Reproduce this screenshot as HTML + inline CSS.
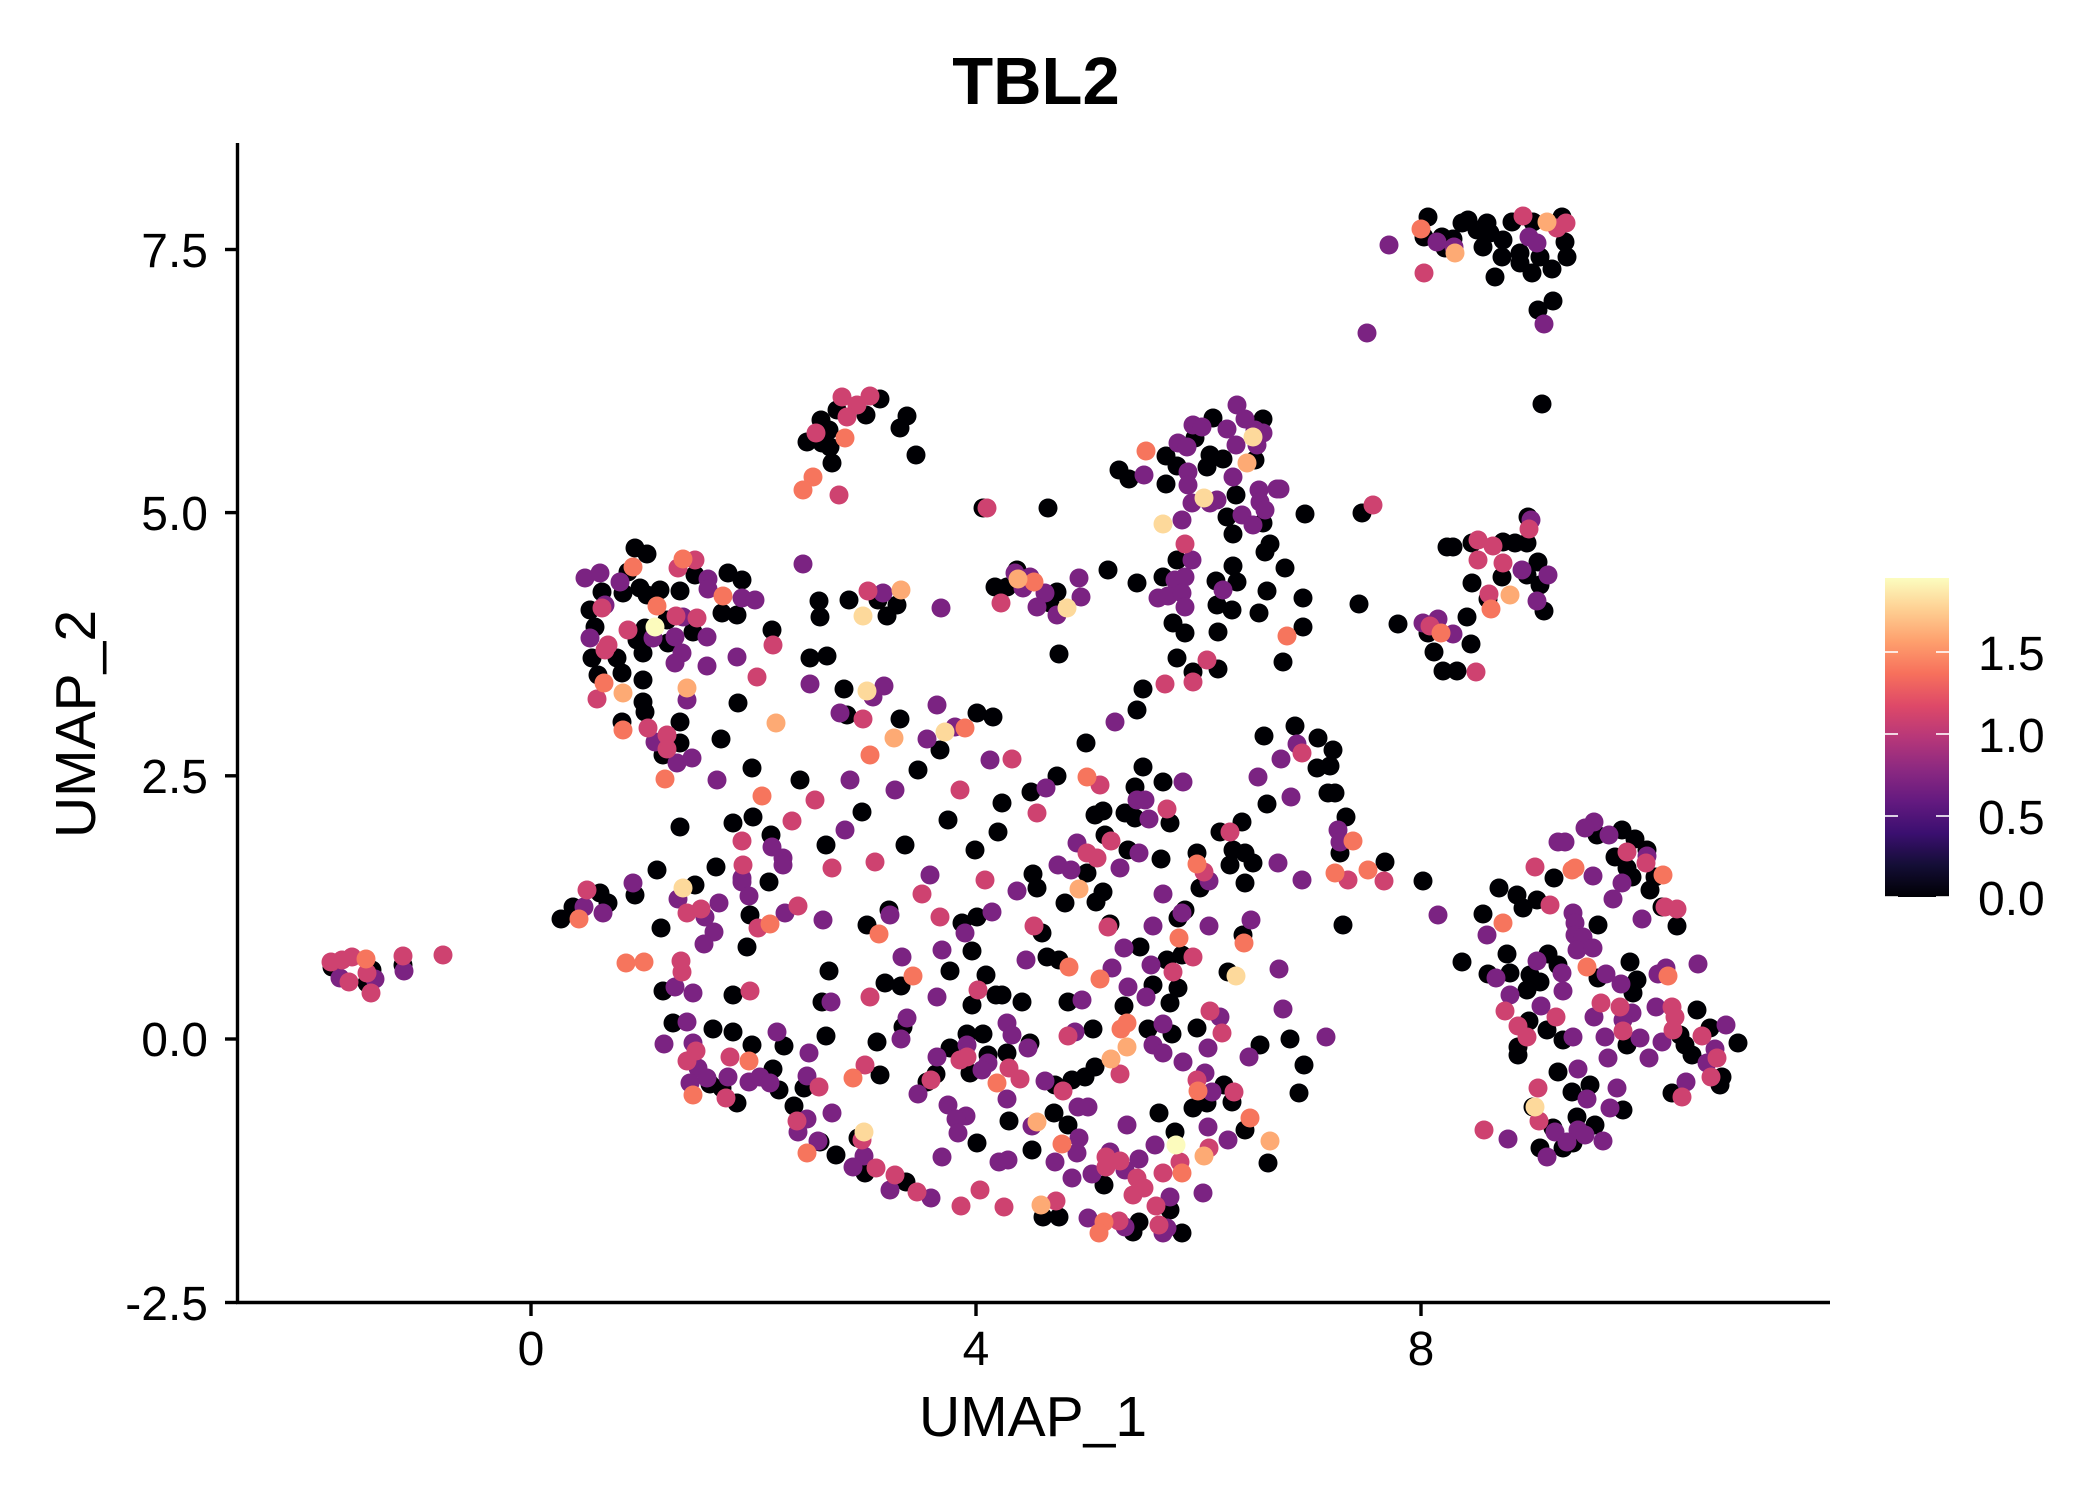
<!DOCTYPE html>
<html><head><meta charset="utf-8"><style>
html,body{margin:0;padding:0;background:#fff;}
svg{display:block;}
text{font-family:"Liberation Sans",Arial,sans-serif;fill:#000;}
</style></head><body>
<svg width="2100" height="1500" viewBox="0 0 2100 1500" xmlns="http://www.w3.org/2000/svg">
<defs>
<linearGradient id="mg" x1="0" y1="1" x2="0" y2="0">
<stop offset="0" stop-color="#000004"/><stop offset="0.1" stop-color="#140E36"/><stop offset="0.2" stop-color="#3B0F70"/><stop offset="0.3" stop-color="#641A80"/><stop offset="0.4" stop-color="#8C2981"/><stop offset="0.5" stop-color="#B73779"/><stop offset="0.6" stop-color="#DE4968"/><stop offset="0.7" stop-color="#F7705C"/><stop offset="0.8" stop-color="#FE9F6D"/><stop offset="0.9" stop-color="#FECF92"/><stop offset="1" stop-color="#FCFDBF"/>
</linearGradient>
</defs>
<rect width="2100" height="1500" fill="#fff"/>
<text x="1036" y="104" font-size="67" font-weight="bold" text-anchor="middle">TBL2</text>
<!-- points -->
<g fill="#000004">
<circle cx="332" cy="967" r="9.5"/><circle cx="372" cy="970" r="9.5"/><circle cx="367" cy="983" r="9.5"/><circle cx="403" cy="965" r="9.5"/>
<circle cx="635" cy="548" r="9.5"/><circle cx="647" cy="554" r="9.5"/><circle cx="628" cy="572" r="9.5"/><circle cx="695" cy="575" r="9.5"/><circle cx="640" cy="588" r="9.5"/><circle cx="660" cy="590" r="9.5"/><circle cx="647" cy="595" r="9.5"/><circle cx="623" cy="593" r="9.5"/><circle cx="680" cy="591" r="9.5"/><circle cx="602" cy="592" r="9.5"/><circle cx="728" cy="573" r="9.5"/><circle cx="742" cy="580" r="9.5"/><circle cx="722" cy="613" r="9.5"/><circle cx="737" cy="615" r="9.5"/><circle cx="590" cy="610" r="9.5"/><circle cx="595" cy="627" r="9.5"/><circle cx="645" cy="628" r="9.5"/><circle cx="667" cy="620" r="9.5"/><circle cx="693" cy="632" r="9.5"/><circle cx="772" cy="630" r="9.5"/><circle cx="637" cy="640" r="9.5"/><circle cx="668" cy="643" r="9.5"/><circle cx="643" cy="653" r="9.5"/><circle cx="592" cy="658" r="9.5"/><circle cx="617" cy="658" r="9.5"/><circle cx="622" cy="673" r="9.5"/><circle cx="598" cy="675" r="9.5"/><circle cx="643" cy="680" r="9.5"/><circle cx="643" cy="702" r="9.5"/><circle cx="645" cy="712" r="9.5"/><circle cx="738" cy="703" r="9.5"/><circle cx="622" cy="722" r="9.5"/><circle cx="680" cy="722" r="9.5"/><circle cx="721" cy="739" r="9.5"/><circle cx="680" cy="743" r="9.5"/><circle cx="663" cy="755" r="9.5"/><circle cx="752" cy="768" r="9.5"/><circle cx="800" cy="780" r="9.5"/><circle cx="680" cy="827" r="9.5"/><circle cx="733" cy="823" r="9.5"/><circle cx="753" cy="817" r="9.5"/><circle cx="771" cy="835" r="9.5"/><circle cx="657" cy="870" r="9.5"/><circle cx="716" cy="867" r="9.5"/>
<circle cx="880" cy="399" r="9.5"/><circle cx="837" cy="410" r="9.5"/><circle cx="866" cy="415" r="9.5"/><circle cx="907" cy="416" r="9.5"/><circle cx="900" cy="428" r="9.5"/><circle cx="821" cy="420" r="9.5"/><circle cx="829" cy="430" r="9.5"/><circle cx="807" cy="442" r="9.5"/><circle cx="822" cy="443" r="9.5"/><circle cx="830" cy="447" r="9.5"/><circle cx="832" cy="463" r="9.5"/><circle cx="916" cy="455" r="9.5"/><circle cx="983" cy="508" r="9.5"/><circle cx="1048" cy="508" r="9.5"/><circle cx="819" cy="601" r="9.5"/><circle cx="820" cy="617" r="9.5"/><circle cx="849" cy="600" r="9.5"/><circle cx="878" cy="600" r="9.5"/><circle cx="897" cy="605" r="9.5"/><circle cx="887" cy="616" r="9.5"/><circle cx="995" cy="587" r="9.5"/><circle cx="1017" cy="570" r="9.5"/><circle cx="1007" cy="587" r="9.5"/><circle cx="1057" cy="592" r="9.5"/><circle cx="1050" cy="603" r="9.5"/><circle cx="1108" cy="570" r="9.5"/><circle cx="1137" cy="583" r="9.5"/><circle cx="810" cy="658" r="9.5"/><circle cx="827" cy="656" r="9.5"/><circle cx="844" cy="689" r="9.5"/><circle cx="847" cy="715" r="9.5"/><circle cx="900" cy="719" r="9.5"/><circle cx="977" cy="713" r="9.5"/><circle cx="993" cy="717" r="9.5"/><circle cx="1059" cy="654" r="9.5"/><circle cx="1137" cy="710" r="9.5"/><circle cx="1143" cy="689" r="9.5"/><circle cx="1193" cy="672" r="9.5"/><circle cx="1218" cy="669" r="9.5"/><circle cx="1177" cy="658" r="9.5"/>
<circle cx="1213" cy="418" r="9.5"/><circle cx="1263" cy="419" r="9.5"/><circle cx="1195" cy="438" r="9.5"/><circle cx="1166" cy="456" r="9.5"/><circle cx="1177" cy="466" r="9.5"/><circle cx="1210" cy="455" r="9.5"/><circle cx="1223" cy="459" r="9.5"/><circle cx="1207" cy="467" r="9.5"/><circle cx="1255" cy="460" r="9.5"/><circle cx="1119" cy="470" r="9.5"/><circle cx="1129" cy="479" r="9.5"/><circle cx="1166" cy="484" r="9.5"/><circle cx="1236" cy="495" r="9.5"/><circle cx="1263" cy="523" r="9.5"/><circle cx="1227" cy="517" r="9.5"/><circle cx="1233" cy="534" r="9.5"/><circle cx="1177" cy="560" r="9.5"/><circle cx="1270" cy="544" r="9.5"/><circle cx="1265" cy="552" r="9.5"/><circle cx="1233" cy="566" r="9.5"/><circle cx="1237" cy="582" r="9.5"/><circle cx="1216" cy="581" r="9.5"/><circle cx="1163" cy="577" r="9.5"/><circle cx="1173" cy="623" r="9.5"/><circle cx="1185" cy="633" r="9.5"/><circle cx="1217" cy="605" r="9.5"/><circle cx="1232" cy="610" r="9.5"/><circle cx="1218" cy="632" r="9.5"/><circle cx="1267" cy="591" r="9.5"/><circle cx="1259" cy="613" r="9.5"/><circle cx="1285" cy="568" r="9.5"/><circle cx="1283" cy="662" r="9.5"/>
<circle cx="1428" cy="217" r="9.5"/><circle cx="1424" cy="237" r="9.5"/><circle cx="1442" cy="237" r="9.5"/><circle cx="1453" cy="239" r="9.5"/><circle cx="1445" cy="248" r="9.5"/><circle cx="1468" cy="220" r="9.5"/><circle cx="1462" cy="223" r="9.5"/><circle cx="1487" cy="223" r="9.5"/><circle cx="1477" cy="230" r="9.5"/><circle cx="1490" cy="233" r="9.5"/><circle cx="1512" cy="222" r="9.5"/><circle cx="1483" cy="247" r="9.5"/><circle cx="1503" cy="240" r="9.5"/><circle cx="1502" cy="257" r="9.5"/><circle cx="1520" cy="253" r="9.5"/><circle cx="1520" cy="263" r="9.5"/><circle cx="1532" cy="273" r="9.5"/><circle cx="1495" cy="277" r="9.5"/><circle cx="1540" cy="257" r="9.5"/><circle cx="1552" cy="269" r="9.5"/><circle cx="1567" cy="257" r="9.5"/><circle cx="1565" cy="242" r="9.5"/><circle cx="1562" cy="217" r="9.5"/><circle cx="1533" cy="222" r="9.5"/><circle cx="1553" cy="301" r="9.5"/><circle cx="1538" cy="310" r="9.5"/><circle cx="1542" cy="404" r="9.5"/>
<circle cx="1305" cy="514" r="9.5"/><circle cx="1362" cy="513" r="9.5"/><circle cx="1303" cy="598" r="9.5"/><circle cx="1303" cy="627" r="9.5"/><circle cx="1359" cy="604" r="9.5"/><circle cx="1398" cy="624" r="9.5"/><circle cx="1428" cy="633" r="9.5"/><circle cx="1467" cy="617" r="9.5"/><circle cx="1471" cy="644" r="9.5"/><circle cx="1434" cy="652" r="9.5"/><circle cx="1443" cy="671" r="9.5"/><circle cx="1457" cy="671" r="9.5"/><circle cx="1447" cy="547" r="9.5"/><circle cx="1453" cy="547" r="9.5"/><circle cx="1472" cy="543" r="9.5"/><circle cx="1503" cy="542" r="9.5"/><circle cx="1515" cy="543" r="9.5"/><circle cx="1527" cy="543" r="9.5"/><circle cx="1502" cy="577" r="9.5"/><circle cx="1538" cy="562" r="9.5"/><circle cx="1527" cy="575" r="9.5"/><circle cx="1540" cy="585" r="9.5"/><circle cx="1472" cy="583" r="9.5"/><circle cx="1488" cy="599" r="9.5"/><circle cx="1544" cy="611" r="9.5"/><circle cx="1528" cy="517" r="9.5"/>
<circle cx="1423" cy="881" r="9.5"/><circle cx="1597" cy="835" r="9.5"/><circle cx="1622" cy="830" r="9.5"/><circle cx="1635" cy="839" r="9.5"/><circle cx="1647" cy="850" r="9.5"/><circle cx="1615" cy="857" r="9.5"/><circle cx="1554" cy="878" r="9.5"/><circle cx="1627" cy="868" r="9.5"/><circle cx="1632" cy="877" r="9.5"/><circle cx="1655" cy="877" r="9.5"/><circle cx="1650" cy="890" r="9.5"/><circle cx="1499" cy="888" r="9.5"/><circle cx="1517" cy="895" r="9.5"/><circle cx="1537" cy="900" r="9.5"/><circle cx="1523" cy="908" r="9.5"/><circle cx="1662" cy="907" r="9.5"/><circle cx="1677" cy="926" r="9.5"/><circle cx="1483" cy="914" r="9.5"/><circle cx="1598" cy="925" r="9.5"/><circle cx="1462" cy="962" r="9.5"/><circle cx="1507" cy="954" r="9.5"/><circle cx="1488" cy="974" r="9.5"/><circle cx="1510" cy="973" r="9.5"/><circle cx="1548" cy="954" r="9.5"/><circle cx="1530" cy="975" r="9.5"/><circle cx="1540" cy="982" r="9.5"/><circle cx="1558" cy="965" r="9.5"/><circle cx="1527" cy="990" r="9.5"/><circle cx="1598" cy="978" r="9.5"/><circle cx="1630" cy="962" r="9.5"/><circle cx="1637" cy="980" r="9.5"/><circle cx="1633" cy="993" r="9.5"/><circle cx="1529" cy="1021" r="9.5"/><circle cx="1680" cy="1035" r="9.5"/><circle cx="1697" cy="1010" r="9.5"/><circle cx="1547" cy="1030" r="9.5"/><circle cx="1563" cy="1040" r="9.5"/><circle cx="1627" cy="1045" r="9.5"/><circle cx="1685" cy="1045" r="9.5"/><circle cx="1692" cy="1055" r="9.5"/><circle cx="1710" cy="1028" r="9.5"/><circle cx="1738" cy="1043" r="9.5"/><circle cx="1518" cy="1047" r="9.5"/><circle cx="1518" cy="1055" r="9.5"/><circle cx="1722" cy="1077" r="9.5"/><circle cx="1720" cy="1085" r="9.5"/><circle cx="1672" cy="1093" r="9.5"/><circle cx="1558" cy="1072" r="9.5"/><circle cx="1572" cy="1092" r="9.5"/><circle cx="1590" cy="1085" r="9.5"/><circle cx="1533" cy="1107" r="9.5"/><circle cx="1577" cy="1117" r="9.5"/><circle cx="1595" cy="1125" r="9.5"/><circle cx="1623" cy="1110" r="9.5"/><circle cx="1553" cy="1128" r="9.5"/><circle cx="1573" cy="1143" r="9.5"/><circle cx="1540" cy="1148" r="9.5"/><circle cx="1563" cy="1148" r="9.5"/>
<circle cx="600" cy="893" r="9.5"/><circle cx="608" cy="903" r="9.5"/><circle cx="573" cy="907" r="9.5"/><circle cx="561" cy="919" r="9.5"/><circle cx="635" cy="895" r="9.5"/><circle cx="695" cy="885" r="9.5"/><circle cx="769" cy="882" r="9.5"/><circle cx="661" cy="928" r="9.5"/><circle cx="750" cy="915" r="9.5"/><circle cx="747" cy="947" r="9.5"/><circle cx="663" cy="991" r="9.5"/><circle cx="733" cy="995" r="9.5"/><circle cx="829" cy="971" r="9.5"/><circle cx="822" cy="1002" r="9.5"/><circle cx="885" cy="983" r="9.5"/><circle cx="901" cy="986" r="9.5"/><circle cx="867" cy="925" r="9.5"/><circle cx="889" cy="910" r="9.5"/><circle cx="962" cy="923" r="9.5"/><circle cx="977" cy="917" r="9.5"/><circle cx="972" cy="951" r="9.5"/><circle cx="950" cy="971" r="9.5"/><circle cx="986" cy="975" r="9.5"/><circle cx="972" cy="1005" r="9.5"/><circle cx="996" cy="995" r="9.5"/><circle cx="673" cy="1023" r="9.5"/><circle cx="713" cy="1029" r="9.5"/><circle cx="733" cy="1032" r="9.5"/><circle cx="710" cy="1084" r="9.5"/><circle cx="722" cy="1088" r="9.5"/><circle cx="737" cy="1103" r="9.5"/><circle cx="752" cy="1045" r="9.5"/><circle cx="784" cy="1046" r="9.5"/><circle cx="773" cy="1069" r="9.5"/><circle cx="779" cy="1090" r="9.5"/><circle cx="826" cy="1036" r="9.5"/><circle cx="804" cy="1088" r="9.5"/><circle cx="794" cy="1106" r="9.5"/><circle cx="820" cy="1142" r="9.5"/><circle cx="836" cy="1155" r="9.5"/><circle cx="858" cy="1138" r="9.5"/><circle cx="865" cy="1173" r="9.5"/><circle cx="906" cy="1182" r="9.5"/><circle cx="880" cy="1075" r="9.5"/><circle cx="877" cy="1042" r="9.5"/><circle cx="903" cy="1027" r="9.5"/><circle cx="967" cy="1034" r="9.5"/><circle cx="983" cy="1034" r="9.5"/><circle cx="950" cy="1048" r="9.5"/><circle cx="970" cy="1073" r="9.5"/><circle cx="988" cy="1055" r="9.5"/><circle cx="927" cy="1082" r="9.5"/><circle cx="936" cy="1074" r="9.5"/><circle cx="977" cy="1143" r="9.5"/>
<circle cx="1086" cy="743" r="9.5"/><circle cx="1057" cy="776" r="9.5"/><circle cx="1031" cy="792" r="9.5"/><circle cx="1002" cy="803" r="9.5"/><circle cx="1143" cy="767" r="9.5"/><circle cx="1135" cy="787" r="9.5"/><circle cx="1163" cy="782" r="9.5"/><circle cx="1095" cy="815" r="9.5"/><circle cx="1103" cy="811" r="9.5"/><circle cx="1125" cy="813" r="9.5"/><circle cx="1135" cy="818" r="9.5"/><circle cx="1170" cy="823" r="9.5"/><circle cx="1105" cy="835" r="9.5"/><circle cx="1128" cy="850" r="9.5"/><circle cx="1161" cy="859" r="9.5"/><circle cx="1087" cy="873" r="9.5"/><circle cx="1033" cy="874" r="9.5"/><circle cx="1037" cy="888" r="9.5"/><circle cx="1103" cy="892" r="9.5"/><circle cx="1096" cy="902" r="9.5"/><circle cx="1065" cy="903" r="9.5"/><circle cx="1197" cy="853" r="9.5"/><circle cx="1200" cy="888" r="9.5"/><circle cx="1220" cy="832" r="9.5"/><circle cx="1242" cy="822" r="9.5"/><circle cx="1233" cy="850" r="9.5"/><circle cx="1245" cy="853" r="9.5"/><circle cx="1253" cy="863" r="9.5"/><circle cx="1230" cy="865" r="9.5"/><circle cx="1245" cy="883" r="9.5"/><circle cx="1264" cy="736" r="9.5"/><circle cx="1295" cy="726" r="9.5"/><circle cx="1318" cy="738" r="9.5"/><circle cx="1333" cy="750" r="9.5"/><circle cx="1317" cy="768" r="9.5"/><circle cx="1330" cy="766" r="9.5"/><circle cx="1267" cy="804" r="9.5"/><circle cx="1328" cy="793" r="9.5"/><circle cx="1335" cy="793" r="9.5"/><circle cx="1346" cy="817" r="9.5"/><circle cx="1340" cy="853" r="9.5"/><circle cx="1385" cy="862" r="9.5"/><circle cx="1343" cy="925" r="9.5"/><circle cx="1185" cy="910" r="9.5"/><circle cx="1178" cy="918" r="9.5"/><circle cx="1110" cy="924" r="9.5"/><circle cx="1042" cy="933" r="9.5"/><circle cx="1140" cy="947" r="9.5"/><circle cx="1243" cy="935" r="9.5"/><circle cx="1182" cy="955" r="9.5"/><circle cx="1167" cy="960" r="9.5"/><circle cx="1047" cy="957" r="9.5"/><circle cx="1059" cy="960" r="9.5"/><circle cx="1228" cy="972" r="9.5"/><circle cx="1002" cy="995" r="9.5"/><circle cx="1153" cy="985" r="9.5"/><circle cx="1178" cy="988" r="9.5"/>
<circle cx="1022" cy="1002" r="9.5"/><circle cx="1068" cy="1002" r="9.5"/><circle cx="1124" cy="1006" r="9.5"/><circle cx="1170" cy="1003" r="9.5"/><circle cx="1030" cy="1043" r="9.5"/><circle cx="1007" cy="1053" r="9.5"/><circle cx="1093" cy="1029" r="9.5"/><circle cx="1148" cy="1029" r="9.5"/><circle cx="1172" cy="1034" r="9.5"/><circle cx="1197" cy="1028" r="9.5"/><circle cx="1260" cy="1045" r="9.5"/><circle cx="1290" cy="1039" r="9.5"/><circle cx="1304" cy="1065" r="9.5"/><circle cx="1299" cy="1093" r="9.5"/><circle cx="1055" cy="1085" r="9.5"/><circle cx="1072" cy="1080" r="9.5"/><circle cx="1085" cy="1077" r="9.5"/><circle cx="1095" cy="1067" r="9.5"/><circle cx="1224" cy="1085" r="9.5"/><circle cx="1232" cy="1102" r="9.5"/><circle cx="1207" cy="1103" r="9.5"/><circle cx="1193" cy="1108" r="9.5"/><circle cx="1009" cy="1121" r="9.5"/><circle cx="1054" cy="1113" r="9.5"/><circle cx="1068" cy="1125" r="9.5"/><circle cx="1159" cy="1113" r="9.5"/><circle cx="1175" cy="1132" r="9.5"/><circle cx="1245" cy="1130" r="9.5"/><circle cx="1268" cy="1163" r="9.5"/><circle cx="1032" cy="1150" r="9.5"/><circle cx="1104" cy="1185" r="9.5"/><circle cx="1170" cy="1210" r="9.5"/><circle cx="1043" cy="1217" r="9.5"/><circle cx="1059" cy="1217" r="9.5"/><circle cx="1139" cy="1222" r="9.5"/><circle cx="1133" cy="1232" r="9.5"/><circle cx="1182" cy="1233" r="9.5"/>
<circle cx="826" cy="845" r="9.5"/><circle cx="862" cy="812" r="9.5"/><circle cx="905" cy="845" r="9.5"/><circle cx="918" cy="770" r="9.5"/><circle cx="948" cy="820" r="9.5"/><circle cx="975" cy="850" r="9.5"/><circle cx="998" cy="832" r="9.5"/><circle cx="940" cy="750" r="9.5"/>
</g>
<g fill="#7B2382">
<circle cx="340" cy="978" r="9.5"/><circle cx="375" cy="979" r="9.5"/><circle cx="404" cy="971" r="9.5"/>
<circle cx="585" cy="578" r="9.5"/><circle cx="600" cy="573" r="9.5"/><circle cx="620" cy="582" r="9.5"/><circle cx="708" cy="579" r="9.5"/><circle cx="708" cy="589" r="9.5"/><circle cx="742" cy="598" r="9.5"/><circle cx="755" cy="600" r="9.5"/><circle cx="605" cy="605" r="9.5"/><circle cx="683" cy="617" r="9.5"/><circle cx="675" cy="637" r="9.5"/><circle cx="653" cy="638" r="9.5"/><circle cx="707" cy="637" r="9.5"/><circle cx="590" cy="638" r="9.5"/><circle cx="682" cy="653" r="9.5"/><circle cx="675" cy="663" r="9.5"/><circle cx="707" cy="666" r="9.5"/><circle cx="737" cy="657" r="9.5"/><circle cx="687" cy="700" r="9.5"/><circle cx="655" cy="742" r="9.5"/><circle cx="677" cy="763" r="9.5"/><circle cx="692" cy="758" r="9.5"/><circle cx="717" cy="780" r="9.5"/><circle cx="772" cy="847" r="9.5"/><circle cx="783" cy="858" r="9.5"/><circle cx="783" cy="865" r="9.5"/><circle cx="742" cy="878" r="9.5"/>
<circle cx="803" cy="564" r="9.5"/><circle cx="883" cy="593" r="9.5"/><circle cx="941" cy="608" r="9.5"/><circle cx="1015" cy="573" r="9.5"/><circle cx="1030" cy="577" r="9.5"/><circle cx="1023" cy="588" r="9.5"/><circle cx="1045" cy="593" r="9.5"/><circle cx="1037" cy="607" r="9.5"/><circle cx="1057" cy="615" r="9.5"/><circle cx="1079" cy="578" r="9.5"/><circle cx="1081" cy="597" r="9.5"/><circle cx="810" cy="684" r="9.5"/><circle cx="884" cy="686" r="9.5"/><circle cx="873" cy="697" r="9.5"/><circle cx="840" cy="713" r="9.5"/><circle cx="937" cy="705" r="9.5"/><circle cx="955" cy="727" r="9.5"/><circle cx="927" cy="739" r="9.5"/>
<circle cx="1237" cy="405" r="9.5"/><circle cx="1245" cy="419" r="9.5"/><circle cx="1193" cy="425" r="9.5"/><circle cx="1202" cy="427" r="9.5"/><circle cx="1227" cy="429" r="9.5"/><circle cx="1255" cy="430" r="9.5"/><circle cx="1263" cy="433" r="9.5"/><circle cx="1257" cy="445" r="9.5"/><circle cx="1236" cy="445" r="9.5"/><circle cx="1178" cy="443" r="9.5"/><circle cx="1187" cy="447" r="9.5"/><circle cx="1144" cy="475" r="9.5"/><circle cx="1188" cy="472" r="9.5"/><circle cx="1188" cy="485" r="9.5"/><circle cx="1233" cy="477" r="9.5"/><circle cx="1259" cy="490" r="9.5"/><circle cx="1277" cy="489" r="9.5"/><circle cx="1260" cy="502" r="9.5"/><circle cx="1265" cy="510" r="9.5"/><circle cx="1242" cy="515" r="9.5"/><circle cx="1253" cy="525" r="9.5"/><circle cx="1192" cy="503" r="9.5"/><circle cx="1210" cy="503" r="9.5"/><circle cx="1217" cy="500" r="9.5"/><circle cx="1182" cy="520" r="9.5"/><circle cx="1192" cy="560" r="9.5"/><circle cx="1223" cy="590" r="9.5"/><circle cx="1175" cy="580" r="9.5"/><circle cx="1185" cy="577" r="9.5"/><circle cx="1158" cy="598" r="9.5"/><circle cx="1168" cy="596" r="9.5"/><circle cx="1182" cy="593" r="9.5"/><circle cx="1185" cy="607" r="9.5"/>
<circle cx="1437" cy="242" r="9.5"/><circle cx="1454" cy="247" r="9.5"/><circle cx="1389" cy="245" r="9.5"/><circle cx="1529" cy="237" r="9.5"/><circle cx="1537" cy="243" r="9.5"/><circle cx="1544" cy="324" r="9.5"/><circle cx="1367" cy="333" r="9.5"/><circle cx="1280" cy="489" r="9.5"/>
<circle cx="1531" cy="520" r="9.5"/><circle cx="1423" cy="623" r="9.5"/><circle cx="1438" cy="619" r="9.5"/><circle cx="1453" cy="634" r="9.5"/><circle cx="1522" cy="570" r="9.5"/><circle cx="1548" cy="575" r="9.5"/><circle cx="1537" cy="601" r="9.5"/>
<circle cx="1594" cy="822" r="9.5"/><circle cx="1585" cy="828" r="9.5"/><circle cx="1609" cy="835" r="9.5"/><circle cx="1647" cy="856" r="9.5"/><circle cx="1558" cy="842" r="9.5"/><circle cx="1565" cy="842" r="9.5"/><circle cx="1593" cy="876" r="9.5"/><circle cx="1622" cy="883" r="9.5"/><circle cx="1613" cy="899" r="9.5"/><circle cx="1438" cy="915" r="9.5"/><circle cx="1487" cy="935" r="9.5"/><circle cx="1573" cy="913" r="9.5"/><circle cx="1575" cy="923" r="9.5"/><circle cx="1575" cy="935" r="9.5"/><circle cx="1583" cy="937" r="9.5"/><circle cx="1577" cy="950" r="9.5"/><circle cx="1593" cy="948" r="9.5"/><circle cx="1642" cy="919" r="9.5"/><circle cx="1496" cy="978" r="9.5"/><circle cx="1537" cy="961" r="9.5"/><circle cx="1562" cy="973" r="9.5"/><circle cx="1563" cy="991" r="9.5"/><circle cx="1510" cy="995" r="9.5"/><circle cx="1606" cy="974" r="9.5"/><circle cx="1621" cy="984" r="9.5"/><circle cx="1658" cy="974" r="9.5"/><circle cx="1666" cy="968" r="9.5"/><circle cx="1698" cy="964" r="9.5"/><circle cx="1541" cy="1006" r="9.5"/><circle cx="1594" cy="1017" r="9.5"/><circle cx="1632" cy="1013" r="9.5"/><circle cx="1623" cy="1020" r="9.5"/><circle cx="1656" cy="1007" r="9.5"/><circle cx="1573" cy="1037" r="9.5"/><circle cx="1605" cy="1037" r="9.5"/><circle cx="1640" cy="1038" r="9.5"/><circle cx="1662" cy="1042" r="9.5"/><circle cx="1726" cy="1025" r="9.5"/><circle cx="1608" cy="1058" r="9.5"/><circle cx="1649" cy="1058" r="9.5"/><circle cx="1707" cy="1063" r="9.5"/><circle cx="1715" cy="1049" r="9.5"/><circle cx="1686" cy="1082" r="9.5"/><circle cx="1578" cy="1069" r="9.5"/><circle cx="1587" cy="1099" r="9.5"/><circle cx="1617" cy="1088" r="9.5"/><circle cx="1610" cy="1108" r="9.5"/><circle cx="1508" cy="1139" r="9.5"/><circle cx="1555" cy="1132" r="9.5"/><circle cx="1578" cy="1130" r="9.5"/><circle cx="1567" cy="1142" r="9.5"/><circle cx="1585" cy="1135" r="9.5"/><circle cx="1603" cy="1141" r="9.5"/><circle cx="1547" cy="1157" r="9.5"/>
<circle cx="584" cy="907" r="9.5"/><circle cx="603" cy="913" r="9.5"/><circle cx="633" cy="883" r="9.5"/><circle cx="678" cy="899" r="9.5"/><circle cx="705" cy="917" r="9.5"/><circle cx="719" cy="903" r="9.5"/><circle cx="742" cy="882" r="9.5"/><circle cx="749" cy="896" r="9.5"/><circle cx="714" cy="932" r="9.5"/><circle cx="704" cy="944" r="9.5"/><circle cx="785" cy="913" r="9.5"/><circle cx="823" cy="920" r="9.5"/><circle cx="675" cy="987" r="9.5"/><circle cx="693" cy="993" r="9.5"/><circle cx="831" cy="1002" r="9.5"/><circle cx="902" cy="957" r="9.5"/><circle cx="890" cy="915" r="9.5"/><circle cx="942" cy="950" r="9.5"/><circle cx="992" cy="912" r="9.5"/><circle cx="965" cy="933" r="9.5"/><circle cx="937" cy="997" r="9.5"/><circle cx="687" cy="1022" r="9.5"/><circle cx="664" cy="1044" r="9.5"/><circle cx="693" cy="1043" r="9.5"/><circle cx="698" cy="1068" r="9.5"/><circle cx="690" cy="1083" r="9.5"/><circle cx="707" cy="1078" r="9.5"/><circle cx="728" cy="1077" r="9.5"/><circle cx="777" cy="1032" r="9.5"/><circle cx="749" cy="1082" r="9.5"/><circle cx="760" cy="1077" r="9.5"/><circle cx="770" cy="1083" r="9.5"/><circle cx="809" cy="1053" r="9.5"/><circle cx="807" cy="1076" r="9.5"/><circle cx="807" cy="1119" r="9.5"/><circle cx="798" cy="1132" r="9.5"/><circle cx="832" cy="1113" r="9.5"/><circle cx="818" cy="1141" r="9.5"/><circle cx="864" cy="1156" r="9.5"/><circle cx="853" cy="1167" r="9.5"/><circle cx="890" cy="1190" r="9.5"/><circle cx="931" cy="1198" r="9.5"/><circle cx="907" cy="1018" r="9.5"/><circle cx="901" cy="1039" r="9.5"/><circle cx="967" cy="1045" r="9.5"/><circle cx="937" cy="1057" r="9.5"/><circle cx="988" cy="1063" r="9.5"/><circle cx="982" cy="1070" r="9.5"/><circle cx="918" cy="1094" r="9.5"/><circle cx="948" cy="1105" r="9.5"/><circle cx="966" cy="1116" r="9.5"/><circle cx="956" cy="1119" r="9.5"/><circle cx="958" cy="1133" r="9.5"/><circle cx="942" cy="1157" r="9.5"/><circle cx="999" cy="1162" r="9.5"/>
<circle cx="1115" cy="722" r="9.5"/><circle cx="1046" cy="788" r="9.5"/><circle cx="1183" cy="782" r="9.5"/><circle cx="1137" cy="800" r="9.5"/><circle cx="1145" cy="800" r="9.5"/><circle cx="1149" cy="819" r="9.5"/><circle cx="1077" cy="843" r="9.5"/><circle cx="1139" cy="853" r="9.5"/><circle cx="1058" cy="865" r="9.5"/><circle cx="1071" cy="870" r="9.5"/><circle cx="1120" cy="868" r="9.5"/><circle cx="1017" cy="891" r="9.5"/><circle cx="1163" cy="894" r="9.5"/><circle cx="1209" cy="881" r="9.5"/><circle cx="1297" cy="744" r="9.5"/><circle cx="1281" cy="759" r="9.5"/><circle cx="1258" cy="777" r="9.5"/><circle cx="1291" cy="797" r="9.5"/><circle cx="1338" cy="830" r="9.5"/><circle cx="1340" cy="842" r="9.5"/><circle cx="1278" cy="863" r="9.5"/><circle cx="1302" cy="880" r="9.5"/><circle cx="1182" cy="913" r="9.5"/><circle cx="1153" cy="926" r="9.5"/><circle cx="1209" cy="926" r="9.5"/><circle cx="1124" cy="948" r="9.5"/><circle cx="1251" cy="920" r="9.5"/><circle cx="1026" cy="960" r="9.5"/><circle cx="1112" cy="968" r="9.5"/><circle cx="1151" cy="965" r="9.5"/><circle cx="1279" cy="969" r="9.5"/><circle cx="1128" cy="987" r="9.5"/><circle cx="1146" cy="997" r="9.5"/>
<circle cx="1082" cy="1000" r="9.5"/><circle cx="1007" cy="1023" r="9.5"/><circle cx="1012" cy="1035" r="9.5"/><circle cx="1028" cy="1048" r="9.5"/><circle cx="1075" cy="1032" r="9.5"/><circle cx="1163" cy="1024" r="9.5"/><circle cx="1153" cy="1045" r="9.5"/><circle cx="1163" cy="1053" r="9.5"/><circle cx="1220" cy="1017" r="9.5"/><circle cx="1208" cy="1048" r="9.5"/><circle cx="1183" cy="1062" r="9.5"/><circle cx="1283" cy="1009" r="9.5"/><circle cx="1249" cy="1057" r="9.5"/><circle cx="1326" cy="1037" r="9.5"/><circle cx="1045" cy="1081" r="9.5"/><circle cx="1205" cy="1073" r="9.5"/><circle cx="1212" cy="1092" r="9.5"/><circle cx="1007" cy="1099" r="9.5"/><circle cx="1078" cy="1107" r="9.5"/><circle cx="1088" cy="1107" r="9.5"/><circle cx="1032" cy="1126" r="9.5"/><circle cx="1127" cy="1125" r="9.5"/><circle cx="1208" cy="1127" r="9.5"/><circle cx="1228" cy="1140" r="9.5"/><circle cx="1008" cy="1160" r="9.5"/><circle cx="1079" cy="1138" r="9.5"/><circle cx="1077" cy="1153" r="9.5"/><circle cx="1055" cy="1162" r="9.5"/><circle cx="1110" cy="1152" r="9.5"/><circle cx="1125" cy="1170" r="9.5"/><circle cx="1139" cy="1159" r="9.5"/><circle cx="1155" cy="1145" r="9.5"/><circle cx="1072" cy="1178" r="9.5"/><circle cx="1092" cy="1174" r="9.5"/><circle cx="1203" cy="1193" r="9.5"/><circle cx="1170" cy="1197" r="9.5"/><circle cx="1088" cy="1218" r="9.5"/><circle cx="1125" cy="1227" r="9.5"/><circle cx="1167" cy="1228" r="9.5"/><circle cx="1163" cy="1233" r="9.5"/>
<circle cx="850" cy="780" r="9.5"/><circle cx="895" cy="790" r="9.5"/><circle cx="930" cy="875" r="9.5"/><circle cx="990" cy="760" r="9.5"/><circle cx="845" cy="830" r="9.5"/>
</g>
<g fill="#CE4270">
<circle cx="331" cy="962" r="9.5"/><circle cx="342" cy="960" r="9.5"/><circle cx="352" cy="957" r="9.5"/><circle cx="349" cy="982" r="9.5"/><circle cx="367" cy="973" r="9.5"/><circle cx="371" cy="993" r="9.5"/><circle cx="403" cy="956" r="9.5"/><circle cx="443" cy="955" r="9.5"/>
<circle cx="695" cy="560" r="9.5"/><circle cx="678" cy="568" r="9.5"/><circle cx="602" cy="608" r="9.5"/><circle cx="676" cy="616" r="9.5"/><circle cx="697" cy="618" r="9.5"/><circle cx="628" cy="630" r="9.5"/><circle cx="773" cy="645" r="9.5"/><circle cx="608" cy="645" r="9.5"/><circle cx="605" cy="650" r="9.5"/><circle cx="757" cy="677" r="9.5"/><circle cx="597" cy="699" r="9.5"/><circle cx="648" cy="728" r="9.5"/><circle cx="667" cy="735" r="9.5"/><circle cx="667" cy="749" r="9.5"/><circle cx="792" cy="821" r="9.5"/><circle cx="742" cy="841" r="9.5"/><circle cx="743" cy="865" r="9.5"/>
<circle cx="842" cy="397" r="9.5"/><circle cx="870" cy="396" r="9.5"/><circle cx="857" cy="405" r="9.5"/><circle cx="847" cy="417" r="9.5"/><circle cx="816" cy="433" r="9.5"/><circle cx="839" cy="495" r="9.5"/><circle cx="987" cy="508" r="9.5"/><circle cx="868" cy="591" r="9.5"/><circle cx="1001" cy="603" r="9.5"/><circle cx="863" cy="719" r="9.5"/><circle cx="1185" cy="544" r="9.5"/><circle cx="1165" cy="684" r="9.5"/><circle cx="1193" cy="682" r="9.5"/><circle cx="1207" cy="660" r="9.5"/>
<circle cx="1424" cy="273" r="9.5"/><circle cx="1523" cy="216" r="9.5"/><circle cx="1566" cy="223" r="9.5"/><circle cx="1557" cy="228" r="9.5"/>
<circle cx="1373" cy="505" r="9.5"/><circle cx="1430" cy="626" r="9.5"/><circle cx="1476" cy="672" r="9.5"/><circle cx="1478" cy="540" r="9.5"/><circle cx="1493" cy="546" r="9.5"/><circle cx="1478" cy="560" r="9.5"/><circle cx="1503" cy="563" r="9.5"/><circle cx="1489" cy="594" r="9.5"/><circle cx="1529" cy="529" r="9.5"/>
<circle cx="1627" cy="852" r="9.5"/><circle cx="1646" cy="863" r="9.5"/><circle cx="1535" cy="867" r="9.5"/><circle cx="1550" cy="905" r="9.5"/><circle cx="1665" cy="907" r="9.5"/><circle cx="1677" cy="909" r="9.5"/><circle cx="1505" cy="1011" r="9.5"/><circle cx="1556" cy="1017" r="9.5"/><circle cx="1601" cy="1003" r="9.5"/><circle cx="1620" cy="1007" r="9.5"/><circle cx="1623" cy="1031" r="9.5"/><circle cx="1672" cy="1007" r="9.5"/><circle cx="1675" cy="1017" r="9.5"/><circle cx="1673" cy="1030" r="9.5"/><circle cx="1518" cy="1026" r="9.5"/><circle cx="1527" cy="1037" r="9.5"/><circle cx="1702" cy="1036" r="9.5"/><circle cx="1717" cy="1058" r="9.5"/><circle cx="1711" cy="1077" r="9.5"/><circle cx="1682" cy="1097" r="9.5"/><circle cx="1538" cy="1088" r="9.5"/><circle cx="1539" cy="1121" r="9.5"/><circle cx="1484" cy="1130" r="9.5"/>
<circle cx="587" cy="890" r="9.5"/><circle cx="687" cy="913" r="9.5"/><circle cx="701" cy="909" r="9.5"/><circle cx="758" cy="928" r="9.5"/><circle cx="798" cy="906" r="9.5"/><circle cx="681" cy="961" r="9.5"/><circle cx="682" cy="972" r="9.5"/><circle cx="750" cy="991" r="9.5"/><circle cx="870" cy="997" r="9.5"/><circle cx="922" cy="894" r="9.5"/><circle cx="940" cy="917" r="9.5"/><circle cx="978" cy="990" r="9.5"/><circle cx="696" cy="1051" r="9.5"/><circle cx="687" cy="1061" r="9.5"/><circle cx="726" cy="1098" r="9.5"/><circle cx="730" cy="1057" r="9.5"/><circle cx="819" cy="1087" r="9.5"/><circle cx="797" cy="1121" r="9.5"/><circle cx="862" cy="1140" r="9.5"/><circle cx="876" cy="1168" r="9.5"/><circle cx="895" cy="1175" r="9.5"/><circle cx="917" cy="1192" r="9.5"/><circle cx="961" cy="1206" r="9.5"/><circle cx="980" cy="1190" r="9.5"/><circle cx="865" cy="1065" r="9.5"/><circle cx="960" cy="1060" r="9.5"/><circle cx="967" cy="1057" r="9.5"/><circle cx="931" cy="1080" r="9.5"/>
<circle cx="1012" cy="759" r="9.5"/><circle cx="1100" cy="785" r="9.5"/><circle cx="1037" cy="813" r="9.5"/><circle cx="1167" cy="809" r="9.5"/><circle cx="1111" cy="841" r="9.5"/><circle cx="1087" cy="853" r="9.5"/><circle cx="1097" cy="858" r="9.5"/><circle cx="1204" cy="872" r="9.5"/><circle cx="1230" cy="832" r="9.5"/><circle cx="1302" cy="753" r="9.5"/><circle cx="1348" cy="880" r="9.5"/><circle cx="1384" cy="881" r="9.5"/><circle cx="1108" cy="927" r="9.5"/><circle cx="1034" cy="926" r="9.5"/><circle cx="1193" cy="957" r="9.5"/><circle cx="1173" cy="972" r="9.5"/>
<circle cx="1068" cy="1036" r="9.5"/><circle cx="1210" cy="1011" r="9.5"/><circle cx="1222" cy="1033" r="9.5"/><circle cx="1120" cy="1074" r="9.5"/><circle cx="1009" cy="1068" r="9.5"/><circle cx="1020" cy="1079" r="9.5"/><circle cx="1063" cy="1091" r="9.5"/><circle cx="1197" cy="1080" r="9.5"/><circle cx="1234" cy="1092" r="9.5"/><circle cx="1209" cy="1148" r="9.5"/><circle cx="1106" cy="1157" r="9.5"/><circle cx="1106" cy="1167" r="9.5"/><circle cx="1120" cy="1161" r="9.5"/><circle cx="1180" cy="1162" r="9.5"/><circle cx="1163" cy="1173" r="9.5"/><circle cx="1137" cy="1178" r="9.5"/><circle cx="1144" cy="1188" r="9.5"/><circle cx="1133" cy="1195" r="9.5"/><circle cx="1156" cy="1206" r="9.5"/><circle cx="1004" cy="1207" r="9.5"/><circle cx="1056" cy="1201" r="9.5"/><circle cx="1119" cy="1221" r="9.5"/><circle cx="1159" cy="1225" r="9.5"/>
<circle cx="815" cy="800" r="9.5"/><circle cx="832" cy="868" r="9.5"/><circle cx="875" cy="862" r="9.5"/><circle cx="960" cy="790" r="9.5"/><circle cx="985" cy="880" r="9.5"/>
</g>
<g fill="#F6755D">
<circle cx="366" cy="959" r="9.5"/>
<circle cx="633" cy="567" r="9.5"/><circle cx="683" cy="559" r="9.5"/><circle cx="723" cy="596" r="9.5"/><circle cx="657" cy="606" r="9.5"/><circle cx="604" cy="683" r="9.5"/><circle cx="623" cy="730" r="9.5"/><circle cx="665" cy="779" r="9.5"/><circle cx="762" cy="796" r="9.5"/>
<circle cx="845" cy="438" r="9.5"/><circle cx="813" cy="477" r="9.5"/><circle cx="803" cy="490" r="9.5"/><circle cx="1034" cy="582" r="9.5"/><circle cx="965" cy="728" r="9.5"/><circle cx="1146" cy="451" r="9.5"/>
<circle cx="1421" cy="229" r="9.5"/>
<circle cx="1287" cy="636" r="9.5"/><circle cx="1441" cy="633" r="9.5"/><circle cx="1491" cy="609" r="9.5"/>
<circle cx="1572" cy="870" r="9.5"/><circle cx="1575" cy="868" r="9.5"/><circle cx="1663" cy="875" r="9.5"/><circle cx="1503" cy="923" r="9.5"/><circle cx="1587" cy="967" r="9.5"/><circle cx="1668" cy="976" r="9.5"/>
<circle cx="579" cy="919" r="9.5"/><circle cx="770" cy="924" r="9.5"/><circle cx="626" cy="963" r="9.5"/><circle cx="644" cy="962" r="9.5"/><circle cx="879" cy="934" r="9.5"/><circle cx="913" cy="976" r="9.5"/><circle cx="693" cy="1095" r="9.5"/><circle cx="749" cy="1061" r="9.5"/><circle cx="807" cy="1153" r="9.5"/><circle cx="853" cy="1078" r="9.5"/><circle cx="997" cy="1083" r="9.5"/>
<circle cx="1087" cy="777" r="9.5"/><circle cx="1197" cy="864" r="9.5"/><circle cx="1353" cy="841" r="9.5"/><circle cx="1335" cy="873" r="9.5"/><circle cx="1368" cy="870" r="9.5"/><circle cx="1179" cy="938" r="9.5"/><circle cx="1244" cy="943" r="9.5"/><circle cx="1069" cy="967" r="9.5"/><circle cx="1100" cy="979" r="9.5"/>
<circle cx="1121" cy="1029" r="9.5"/><circle cx="1127" cy="1023" r="9.5"/><circle cx="1198" cy="1091" r="9.5"/><circle cx="1062" cy="1144" r="9.5"/><circle cx="1250" cy="1118" r="9.5"/><circle cx="1182" cy="1173" r="9.5"/><circle cx="1104" cy="1222" r="9.5"/><circle cx="1099" cy="1233" r="9.5"/>
<circle cx="870" cy="755" r="9.5"/>
</g>
<g fill="#FDAA74">
<circle cx="623" cy="693" r="9.5"/><circle cx="687" cy="688" r="9.5"/><circle cx="776" cy="723" r="9.5"/>
<circle cx="901" cy="590" r="9.5"/><circle cx="1018" cy="579" r="9.5"/><circle cx="894" cy="738" r="9.5"/><circle cx="1247" cy="463" r="9.5"/>
<circle cx="1455" cy="253" r="9.5"/><circle cx="1547" cy="222" r="9.5"/><circle cx="1510" cy="595" r="9.5"/>
<circle cx="1079" cy="889" r="9.5"/><circle cx="1127" cy="1047" r="9.5"/><circle cx="1111" cy="1059" r="9.5"/><circle cx="1037" cy="1122" r="9.5"/><circle cx="1270" cy="1141" r="9.5"/><circle cx="1204" cy="1156" r="9.5"/><circle cx="1041" cy="1205" r="9.5"/>
</g>
<g fill="#FDD99B">
<circle cx="863" cy="616" r="9.5"/><circle cx="1067" cy="608" r="9.5"/><circle cx="867" cy="691" r="9.5"/><circle cx="945" cy="732" r="9.5"/><circle cx="1253" cy="437" r="9.5"/><circle cx="1204" cy="498" r="9.5"/><circle cx="1163" cy="524" r="9.5"/>
<circle cx="683" cy="888" r="9.5"/><circle cx="864" cy="1132" r="9.5"/><circle cx="1236" cy="976" r="9.5"/><circle cx="1535" cy="1107" r="9.5"/>
</g>
<g fill="#FCFBBD">
<circle cx="655" cy="627" r="9.5"/><circle cx="1176" cy="1145" r="9.5"/>
</g>
<!-- axes -->
<g stroke="#000" stroke-width="3.4" fill="none">
<line x1="237.5" y1="143" x2="237.5" y2="1304"/>
<line x1="236" y1="1302.5" x2="1830" y2="1302.5"/>
<line x1="225" y1="249.5" x2="237" y2="249.5"/>
<line x1="225" y1="512.6" x2="237" y2="512.6"/>
<line x1="225" y1="775.8" x2="237" y2="775.8"/>
<line x1="225" y1="1039" x2="237" y2="1039"/>
<line x1="225" y1="1302.5" x2="237" y2="1302.5"/>
<line x1="531" y1="1303" x2="531" y2="1316"/>
<line x1="976" y1="1303" x2="976" y2="1316"/>
<line x1="1421" y1="1303" x2="1421" y2="1316"/>
</g>
<g font-size="48" text-anchor="end">
<text x="208" y="267">7.5</text>
<text x="208" y="530">5.0</text>
<text x="208" y="793">2.5</text>
<text x="208" y="1056">0.0</text>
<text x="208" y="1320">-2.5</text>
</g>
<g font-size="48" text-anchor="middle">
<text x="531" y="1365">0</text>
<text x="976" y="1365">4</text>
<text x="1421" y="1365">8</text>
</g>
<text x="1033" y="1436" font-size="57" text-anchor="middle">UMAP_1</text>
<text transform="translate(95,724) rotate(-90)" font-size="57" text-anchor="middle">UMAP_2</text>
<!-- legend -->
<rect x="1885" y="578" width="64" height="319" fill="url(#mg)"/>
<g stroke="#fff" stroke-width="1.6">
<line x1="1885" y1="652" x2="1898" y2="652"/><line x1="1936" y1="652" x2="1949" y2="652"/>
<line x1="1885" y1="734" x2="1898" y2="734"/><line x1="1936" y1="734" x2="1949" y2="734"/>
<line x1="1885" y1="816" x2="1898" y2="816"/><line x1="1936" y1="816" x2="1949" y2="816"/>
<line x1="1885" y1="897" x2="1898" y2="897"/><line x1="1936" y1="897" x2="1949" y2="897"/>
</g>
<g font-size="48">
<text x="1978" y="670">1.5</text>
<text x="1978" y="752">1.0</text>
<text x="1978" y="834">0.5</text>
<text x="1978" y="915">0.0</text>
</g>
</svg>
</body></html>
